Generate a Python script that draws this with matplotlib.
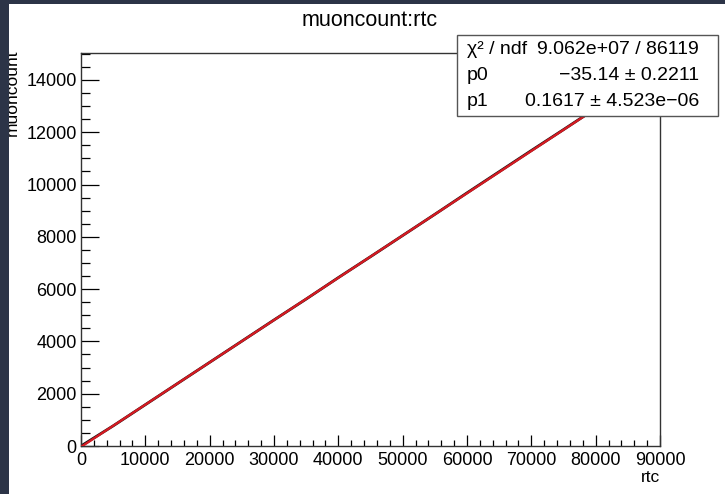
import matplotlib
matplotlib.use("Agg")
import matplotlib.pyplot as plt
from matplotlib.patches import Rectangle
from matplotlib.ticker import MultipleLocator
import numpy as np

plt.rcParams['font.family'] = ['Liberation Sans', 'DejaVu Sans']

# Sampled entries of the muoncount:rtc tree scatter
rtc = [0, 5000, 10000, 15000, 20000, 25000, 30000, 35000, 40000, 45000,
       50000, 55000, 60000, 65000, 70000, 75000, 80000, 85000, 86121]
muoncount = [0, 770, 1580, 2390, 3200, 4010, 4820, 5620, 6440, 7240,
             8050, 8860, 9680, 10490, 11300, 12100, 12910, 13720, 13890]

# Linear fit result (pol1)
p0, p0_err = -35.14, 0.2211
p1, p1_err = 0.1617, 4.523e-06
chi2, ndf = 9.062e+07, 86119

x_ticks = [0, 10000, 20000, 30000, 40000, 50000, 60000, 70000, 80000, 90000]
y_ticks = [0, 2000, 4000, 6000, 8000, 10000, 12000, 14000]

W, H = 725, 494
fig = plt.figure(figsize=(W / 100, H / 100), dpi=100)
fig.patch.set_facecolor('white')

ax = fig.add_axes([81 / W, 1 - 446 / H, (660 - 81) / W, (446 - 53) / H])
ax.set_xlim(0, 90000)
ax.set_ylim(0, 15030)

ax.plot(rtc, muoncount, color='#111111', lw=2.0, zorder=2)
fx = np.array([rtc[0], rtc[-1]])
ax.plot(fx, p0 + p1 * fx, color='#d41a22', lw=1.7, zorder=3)

ax.set_xticks(x_ticks)
ax.set_yticks(y_ticks)
ax.set_xticklabels([str(v) for v in x_ticks])
ax.set_yticklabels([str(v) for v in y_ticks])
ax.xaxis.set_minor_locator(MultipleLocator(2000))
ax.yaxis.set_minor_locator(MultipleLocator(500))
ax.tick_params(axis='x', which='major', direction='in', length=8, width=0.9,
               labelsize=13, pad=4, top=False)
ax.tick_params(axis='x', which='minor', direction='in', length=4, width=0.9, top=False)
ax.tick_params(axis='y', which='major', direction='in', length=13, width=0.9,
               labelsize=13, pad=3, right=False)
ax.tick_params(axis='y', which='minor', direction='in', length=6.5, width=0.9, right=False)
for s in ax.spines.values():
    s.set_linewidth(1.0)
    s.set_color('#333333')

# Title and axis titles
fig.text(370 / W, 1 - 21 / H, 'muoncount:rtc', ha='center', va='center', fontsize=15.5)
fig.text(660 / W, 1 - 477 / H, 'rtc', ha='right', va='center', fontsize=12.5)
fig.text(12 / W, 1 - 50 / H, 'muoncount', ha='center', va='top', rotation=90, fontsize=12.5)

# Fit statistics box
bx0, bx1, by0, by1 = 457, 718, 35, 116
fig.patches.append(Rectangle((bx0 / W, 1 - by1 / H), (bx1 - bx0) / W, (by1 - by0) / H,
                             transform=fig.transFigure, facecolor='white',
                             edgecolor='#555555', lw=1.0, zorder=5))
rows = [('\u03c7\u00b2 / ndf', f'{chi2:.3e} / {ndf}'),
        ('p0', f'\u2212{abs(p0):.2f} \u00b1 {p0_err:.4f}'),
        ('p1', f'{p1:.4f} \u00b1 4.523e\u221206')]
for (lab, val), yc in zip(rows, [50, 75, 101]):
    fig.text(467 / W, 1 - yc / H, lab, ha='left', va='center', fontsize=14, zorder=6)
    fig.text(699 / W, 1 - yc / H, val, ha='right', va='center', fontsize=14, zorder=6)

# Window frame bands
frame = '#2c3447'
fig.patches.append(Rectangle((0, 0), 9 / W, 1, transform=fig.transFigure,
                             facecolor=frame, edgecolor='none', zorder=10))
fig.patches.append(Rectangle((0, 1 - 4 / H), 1, 4 / H, transform=fig.transFigure,
                             facecolor=frame, edgecolor='none', zorder=10))

fig.savefig('out.png', dpi=100)
